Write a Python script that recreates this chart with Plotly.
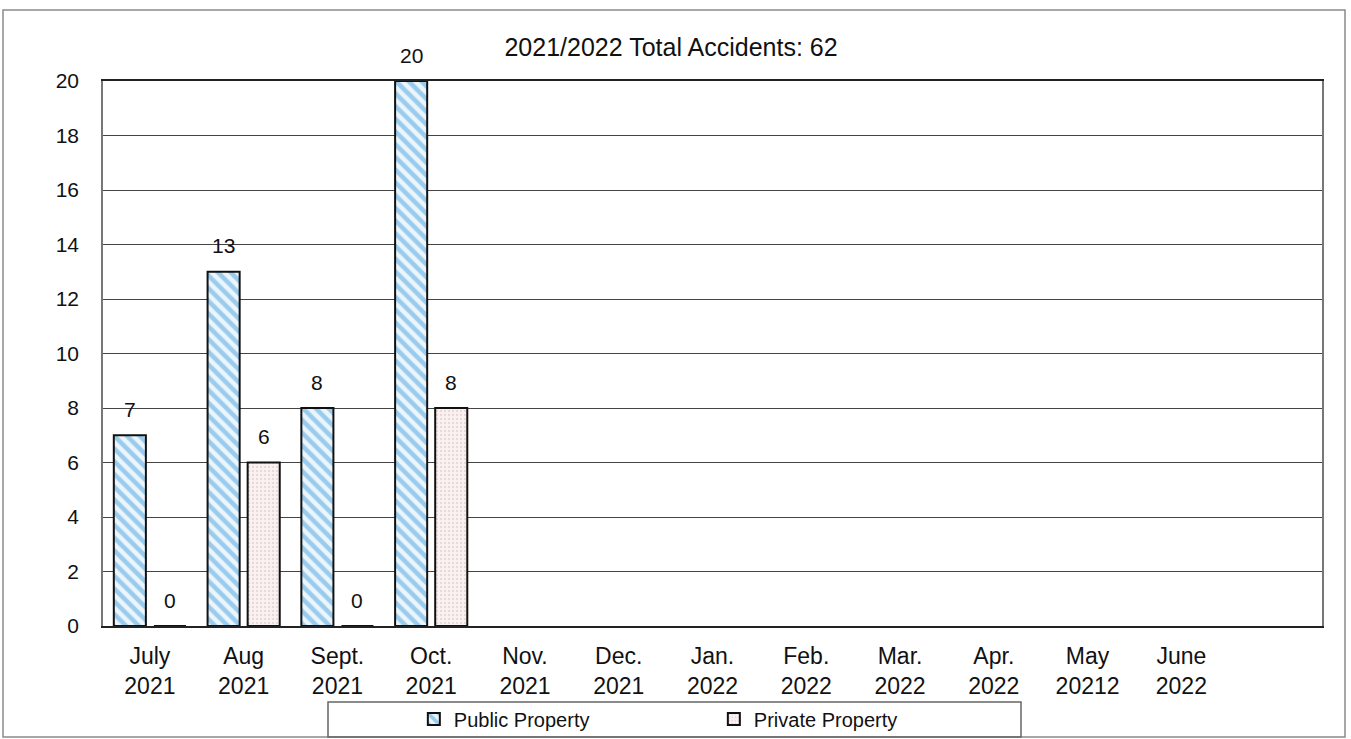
import plotly.graph_objects as go

months = ["July", "Aug", "Sept.", "Oct.", "Nov.", "Dec.", "Jan.", "Feb.", "Mar.", "Apr.", "May", "June"]
years = ["2021", "2021", "2021", "2021", "2021", "2021", "2022", "2022", "2022", "2022", "20212", "2022"]
public_property = [7, 13, 8, 20, None, None, None, None, None, None, None, None]
private_property = [0, 6, 0, 8, None, None, None, None, None, None, None, None]
title_text = "2021/2022 Total Accidents: 62"

labels = [f"{m}<br>{y}" for m, y in zip(months, years)]
FONT = "Liberation Sans, Arial, sans-serif"

fig = go.Figure()
fig.add_trace(go.Bar(
    name="Public Property", x=labels, y=public_property,
    marker=dict(color="#eaf5fc", line=dict(color="#111", width=2),
                pattern=dict(shape="\\", fgcolor="#4aa2de", bgcolor="#eaf5fc", size=9, solidity=0.5)),
))
fig.add_trace(go.Bar(
    name="Private Property", x=labels, y=private_property,
    marker=dict(color="#faf1f1", line=dict(color="#111", width=2),
                pattern=dict(shape=".", fgcolor="#d8bcbc", bgcolor="#faf1f1", size=4, solidity=0.25)),
))

# Data labels above each bar (placed from the data through the axes)
bar_offset = 0.213
annotations = []
for vals, sign in ((public_property, -1), (private_property, 1)):
    for i, v in enumerate(vals):
        if v is None:
            continue
        annotations.append(dict(
            x=i + sign * bar_offset, y=v, xref="x", yref="y", text=str(v),
            showarrow=False, yanchor="middle", yshift=26,
            font=dict(size=21, color="#111", family=FONT)))

fig.update_layout(
    width=1351, height=739,
    margin=dict(l=103, r=29, t=81, b=113, autoexpand=False),
    paper_bgcolor="white", plot_bgcolor="white",
    font=dict(family=FONT, color="#111"),
    barmode="group", bargap=0.145, bargroupgap=0.2,
    title=dict(text=title_text, x=0.466, xref="paper", xanchor="center",
               y=1 - 47 / 739, yref="container", yanchor="middle",
               font=dict(size=25, family=FONT, color="#111")),
    showlegend=True,
    legend=dict(orientation="h", x=0.255, xanchor="left", y=-0.1706, yanchor="middle",
                font=dict(size=20, family=FONT, color="#111"),
                entrywidth=255, entrywidthmode="pixels",
                bgcolor="rgba(0,0,0,0)", borderwidth=0, itemclick=False),
    annotations=annotations,
    xaxis=dict(type="category", categoryorder="array", categoryarray=labels,
               range=[-0.5, 12.5], showgrid=False,
               showline=True, linecolor="#222", linewidth=1.5, mirror=True,
               ticks="", tickfont=dict(size=23, family=FONT, color="#111"),
               ticklabelstandoff=9),
    yaxis=dict(range=[0, 20], dtick=2, tick0=0, showgrid=True, gridcolor="#444", gridwidth=1,
               showline=True, linecolor="#777", linewidth=1.5, mirror=True,
               zeroline=False, ticks="", tickfont=dict(size=21, family=FONT, color="#111"),
               ticklabelstandoff=18),
    shapes=[
        dict(type="rect", xref="paper", yref="paper",
             x0=(3 - 103) / 1219, x1=(1345 - 103) / 1219,
             y0=(626 - 737) / 545, y1=(626 - 10) / 545,
             line=dict(color="#8a8a8a", width=1.5), fillcolor="rgba(0,0,0,0)", layer="below"),
        dict(type="rect", xref="paper", yref="paper",
             x0=(328 - 103) / 1219, x1=(1021 - 103) / 1219,
             y0=(626 - 737) / 545, y1=(626 - 702) / 545,
             line=dict(color="#666", width=1.5), fillcolor="rgba(0,0,0,0)"),
    ],
)

fig.write_html(
    "out.html",
    config={"displayModeBar": False},
    post_script="document.body.style.margin='0';document.body.style.overflow='hidden';",
)
